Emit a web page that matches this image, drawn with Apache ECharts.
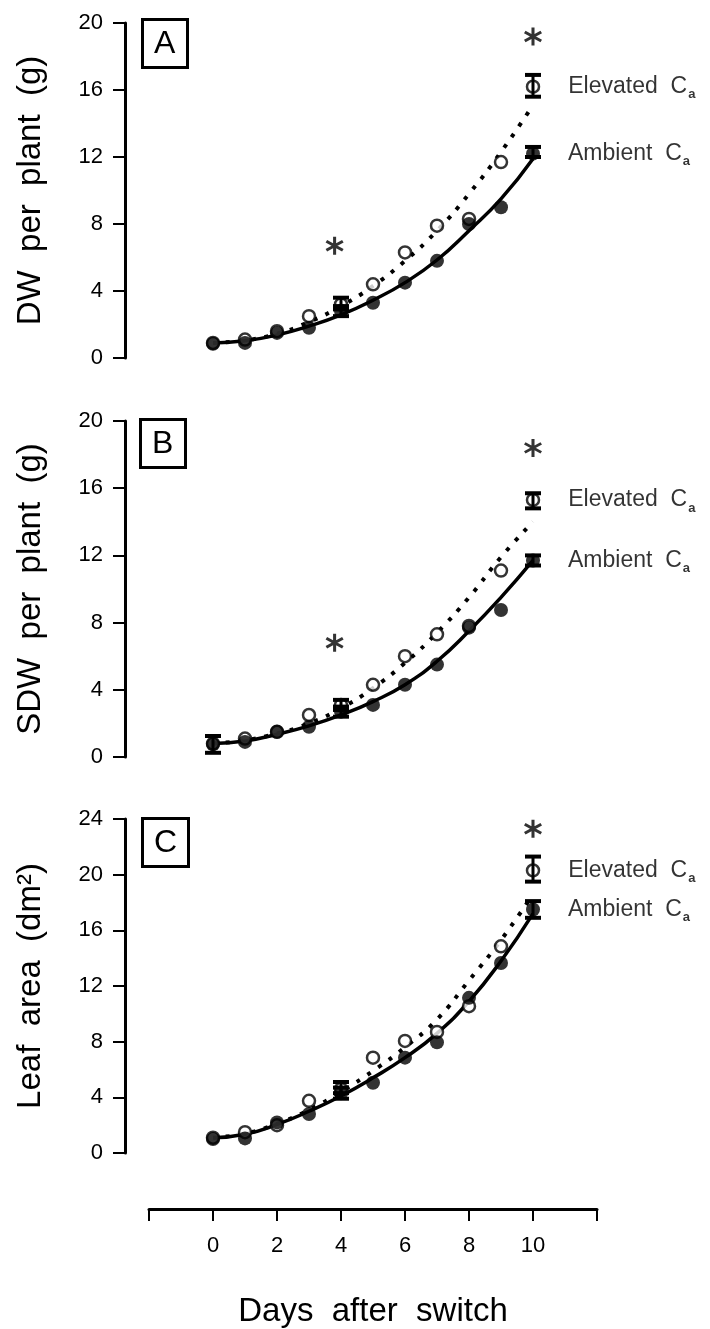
<!DOCTYPE html>
<html>
<head>
<meta charset="utf-8">
<script src="https://cdn.jsdelivr.net/npm/echarts@6/dist/echarts.min.js"></script>
<style>
  html, body { margin: 0; padding: 0; background: #fff; }
  #chart { width: 710px; height: 1329px; }
</style>
</head>
<body>
<div id="chart"></div>
<script>
// Sampling days (days after the CO2 switch)
const days = [0, 1, 2, 3, 4, 5, 6, 7, 8, 9, 10];
const xTickLabels = ['0', '2', '4', '6', '8', '10'];
const panelLetters = ['A', 'B', 'C'];
const yTitles = ['DW  per  plant  (g)', 'SDW  per  plant  (g)', 'Leaf  area  (dm\u00B2)'];
const yMax = [20, 20, 24];
const xTitle = 'Days  after  switch';
const tagElevated = 'Elevated';
const tagAmbient = 'Ambient';

// Panel A: total dry weight per plant (g)
const dwAmbient     = [0.85, 0.9, 1.5, 1.8, 2.8, 3.3, 4.5, 5.8, 8.0, 9.0, 12.2];
const dwElevated    = [0.9, 1.1, 1.6, 2.5, 3.2, 4.4, 6.3, 7.9, 8.3, 11.7, 16.2];
const dwAmbientFit  = [0.9, 1.03, 1.37, 1.9, 2.57, 3.45, 4.5, 5.85, 7.6, 9.5, 11.9];
const dwElevatedFit = [0.9, 1.05, 1.45, 2.15, 3.1, 4.3, 5.8, 7.6, 9.8, 12.3, 15.1];
const dwAmbientErr  = [[4, 2.5, 3.1], [10, 12.0, 12.6]];
const dwElevatedErr = [[4, 2.9, 3.6], [10, 15.6, 16.9]];
const dwStars       = [[3.8, 6.7], [10, 19.2]];

// Panel B: shoot dry weight per plant (g)
const sdwAmbient     = [0.75, 0.9, 1.5, 1.8, 2.7, 3.1, 4.3, 5.5, 7.7, 8.75, 11.7];
const sdwElevated    = [0.8, 1.1, 1.5, 2.5, 3.1, 4.3, 6.0, 7.3, 7.8, 11.1, 15.3];
const sdwAmbientFit  = [0.8, 0.95, 1.35, 1.85, 2.5, 3.3, 4.3, 5.7, 7.5, 9.5, 11.7];
const sdwElevatedFit = [0.8, 1.0, 1.4, 2.0, 2.9, 4.1, 5.6, 7.4, 9.5, 11.9, 14.0];
const sdwAmbientErr  = [[0, 0.25, 1.25], [4, 2.4, 3.0], [10, 11.4, 12.0]];
const sdwElevatedErr = [[4, 2.8, 3.4], [10, 14.8, 15.7]];
const sdwStars       = [[3.8, 6.8], [10, 18.4]];

// Panel C: leaf area (dm2)
const laAmbient     = [1.0, 1.05, 2.2, 2.8, 4.3, 5.05, 6.85, 7.95, 11.15, 13.65, 17.5];
const laElevated    = [1.1, 1.5, 2.0, 3.75, 4.6, 6.85, 8.05, 8.7, 10.55, 14.85, 20.3];
const laAmbientFit  = [1.1, 1.35, 2.05, 3.0, 4.1, 5.4, 6.85, 8.6, 10.9, 13.8, 17.2];
const laElevatedFit = [1.1, 1.4, 2.1, 3.1, 4.4, 5.9, 7.6, 9.6, 12.4, 15.3, 18.6];
const laAmbientErr  = [[4, 3.9, 4.7], [10, 16.9, 18.1]];
const laElevatedErr = [[4, 4.3, 5.1], [10, 19.5, 21.3]];
const laStars       = [[10, 23.3]];

const panels = [
  { amb: dwAmbient, elev: dwElevated, ambFit: dwAmbientFit, elevFit: dwElevatedFit,
    err: dwAmbientErr.concat(dwElevatedErr), stars: dwStars },
  { amb: sdwAmbient, elev: sdwElevated, ambFit: sdwAmbientFit, elevFit: sdwElevatedFit,
    err: sdwAmbientErr.concat(sdwElevatedErr), stars: sdwStars },
  { amb: laAmbient, elev: laElevated, ambFit: laAmbientFit, elevFit: laElevatedFit,
    err: laAmbientErr.concat(laElevatedErr), stars: laStars }
];

const FONT = '"Liberation Sans", Arial, Helvetica, sans-serif';
const INK = '#000';
const STAR = 'path://M42 0L58 0L58 100L42 100Z M2.7 31.9L10.7 18.1L97.3 68.1L89.3 81.9Z M89.3 18.1L97.3 31.9L10.7 81.9L2.7 68.1Z';

const grids = [
  { left: 149, top: 23,  width: 448, height: 335 },
  { left: 149, top: 421, width: 448, height: 336 },
  { left: 149, top: 819, width: 448, height: 335 }
];
const letterPos = [[142, 19], [140, 419], [142, 818]];

function pairs(values) {
  return days.map((d, i) => [d, values[i]]);
}

// Last point of each treatment carries its treatment tag (Elevated Ca / Ambient Ca)
function tagged(values, tag) {
  const last = days.length - 1;
  return days.map((d, i) => i === last
    ? { value: [d, values[i]], label: { show: true, formatter: '{n|' + tag + '  C}{s|a}' } }
    : [d, values[i]]);
}

const tagLabel = {
  show: false,
  position: 'right',
  distance: 28,
  color: INK,
  rich: {
    n: { fontSize: 23, fontFamily: FONT, color: INK },
    s: { fontSize: 13, fontFamily: FONT, fontWeight: 'bold', color: INK, padding: [16, 0, 0, 1] }
  }
};

function renderErr(params, api) {
  const x = api.value(0);
  const lo = api.coord([x, api.value(1)]);
  const hi = api.coord([x, api.value(2)]);
  const w = 8;
  const cap = { stroke: INK, lineWidth: 4 };
  return {
    type: 'group',
    children: [
      { type: 'line', shape: { x1: lo[0], y1: lo[1], x2: hi[0], y2: hi[1] }, style: { stroke: INK, lineWidth: 3 } },
      { type: 'line', shape: { x1: lo[0] - w, y1: lo[1], x2: lo[0] + w, y2: lo[1] }, style: cap },
      { type: 'line', shape: { x1: hi[0] - w, y1: hi[1], x2: hi[0] + w, y2: hi[1] }, style: cap }
    ]
  };
}

const xAxes = grids.map((g, i) => {
  const last = i === grids.length - 1;
  return {
    type: 'value', gridIndex: i, min: -2, max: 12, interval: 2,
    show: last,
    offset: 56,
    name: last ? xTitle : '',
    nameLocation: 'middle', nameGap: 86,
    nameTextStyle: { fontSize: 33, fontFamily: FONT, color: INK },
    axisLine: { show: true, onZero: false, lineStyle: { color: INK, width: 3 } },
    axisTick: { show: true, length: 12, lineStyle: { color: INK, width: 2 } },
    axisLabel: {
      fontSize: 22, fontFamily: FONT, color: INK, margin: 26,
      formatter: v => (xTickLabels.indexOf(String(v)) >= 0 ? String(v) : '')
    },
    splitLine: { show: false }
  };
});

const yAxes = grids.map((g, i) => ({
  type: 'value', gridIndex: i, min: 0, max: yMax[i], interval: 4,
  offset: 24,
  name: yTitles[i], nameLocation: 'middle', nameGap: 78,
  nameTextStyle: { fontSize: 33, fontFamily: FONT, color: INK },
  axisLine: { show: true, onZero: false, lineStyle: { color: INK, width: 3 } },
  axisTick: { show: true, length: 12, lineStyle: { color: INK, width: 2 } },
  axisLabel: { fontSize: 22, fontFamily: FONT, color: INK, margin: 22 },
  splitLine: { show: false }
}));

const series = [];
panels.forEach((p, i) => {
  const ax = { xAxisIndex: i, yAxisIndex: i };
  series.push(Object.assign({
    type: 'line', smooth: true, showSymbol: false, silent: true, z: 2,
    lineStyle: { color: INK, width: 3.5 },
    data: pairs(p.ambFit)
  }, ax));
  series.push(Object.assign({
    type: 'line', smooth: true, showSymbol: false, silent: true, z: 2,
    lineStyle: { color: INK, width: 4, type: [4, 9], cap: 'butt' },
    data: pairs(p.elevFit)
  }, ax));
  series.push(Object.assign({
    type: 'scatter', symbol: 'circle', symbolSize: 12, z: 3,
    itemStyle: { color: '#fff', borderColor: INK, borderWidth: 2.5 },
    label: tagLabel,
    data: tagged(p.elev, tagElevated)
  }, ax));
  series.push(Object.assign({
    type: 'scatter', symbol: 'circle', symbolSize: 14, z: 4,
    itemStyle: { color: INK },
    label: tagLabel,
    data: tagged(p.amb, tagAmbient)
  }, ax));
  series.push(Object.assign({
    type: 'custom', z: 5, renderItem: renderErr,
    encode: { x: 0, y: [1, 2] },
    data: p.err
  }, ax));
  series.push(Object.assign({
    type: 'scatter', symbol: STAR, symbolSize: [18, 18], z: 5,
    itemStyle: { color: INK },
    data: p.stars
  }, ax));
});

const titles = panelLetters.map((t, i) => ({
  text: t, left: letterPos[i][0], top: letterPos[i][1],
  borderColor: INK, borderWidth: 3, padding: [9, 12, 8, 12],
  textStyle: { fontSize: 32, fontWeight: 'normal', fontFamily: FONT, color: INK }
}));

const chart = echarts.init(document.getElementById('chart'), null, { renderer: 'canvas' });
chart.setOption({
  backgroundColor: '#fff',
  animation: false,
  title: titles,
  grid: grids,
  xAxis: xAxes,
  yAxis: yAxes,
  series: series
});
</script>
</body>
</html>
